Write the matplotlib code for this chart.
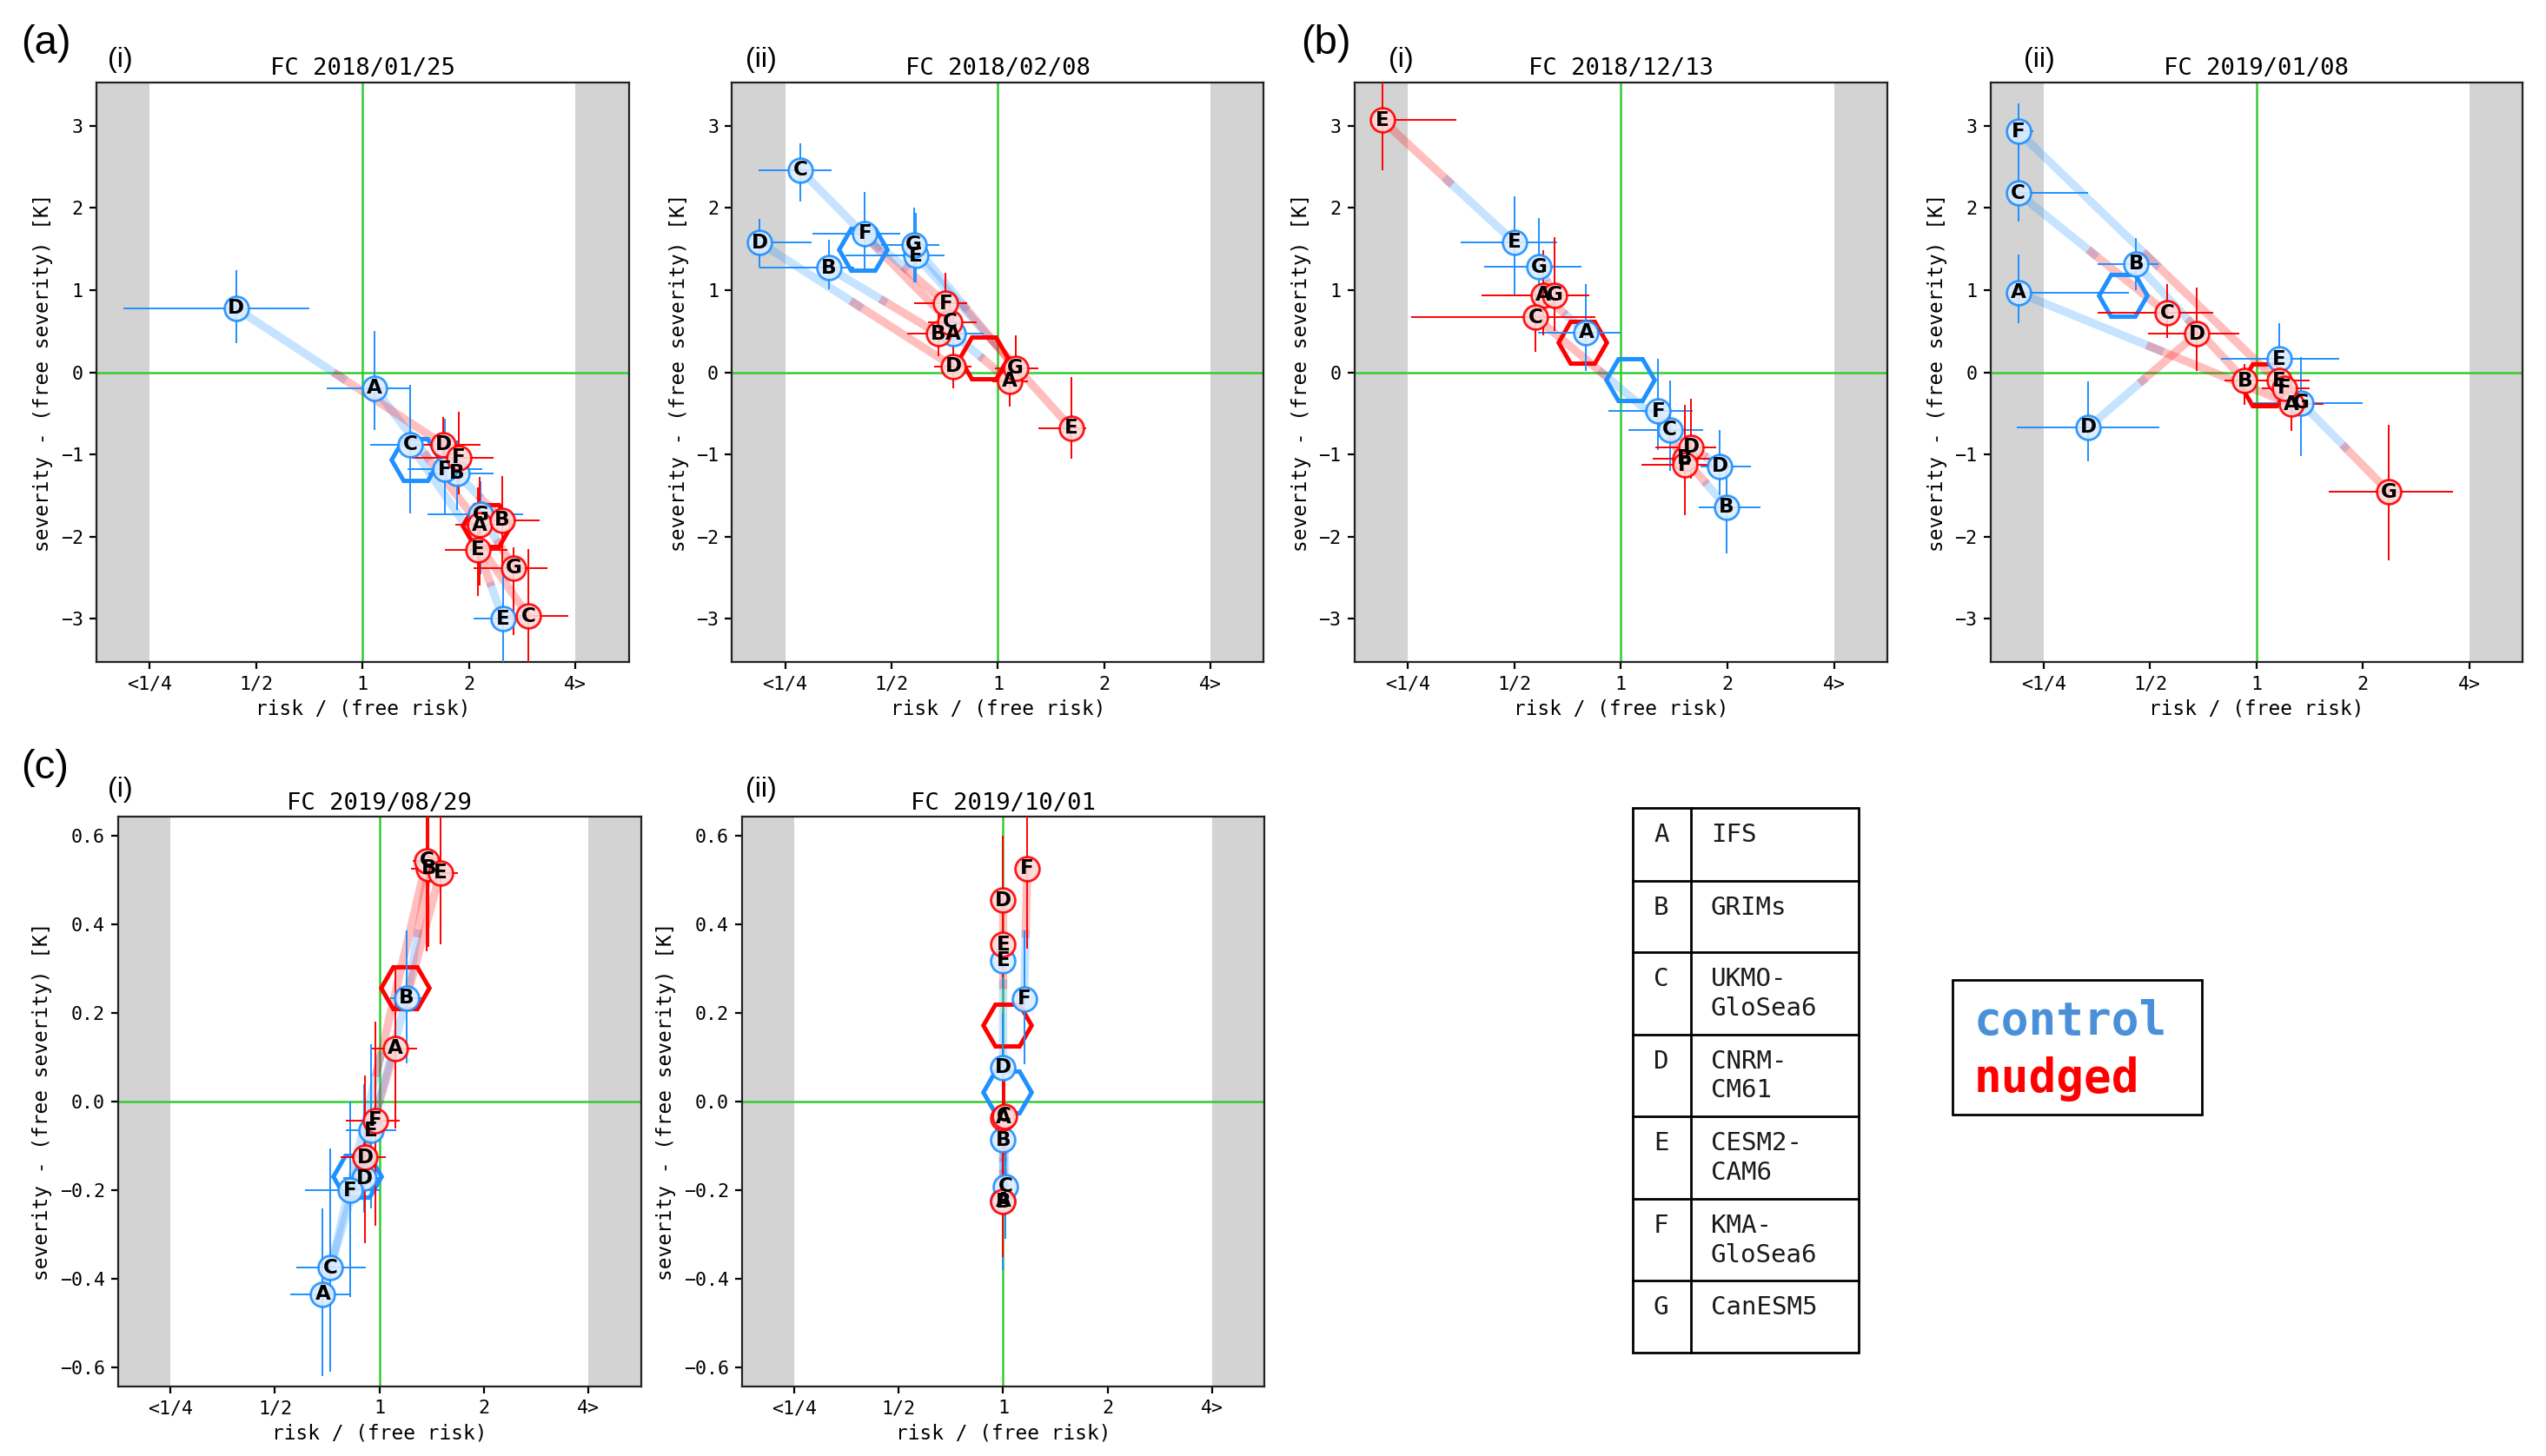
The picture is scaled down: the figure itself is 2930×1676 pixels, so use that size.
import numpy as np
import matplotlib
matplotlib.use("Agg")
import matplotlib.pyplot as plt
from matplotlib.patches import Rectangle

# ---------------- data ----------------
models = ["A", "B", "C", "D", "E", "F", "G"]
model_names = [["IFS"], ["GRIMs"], ["UKMO-", "GloSea6"], ["CNRM-", "CM61"],
               ["CESM2-", "CAM6"], ["KMA-", "GloSea6"], ["CanESM5"]]
x_ticks = [-2, -1, 0, 1, 2]
x_tick_labels = ["<1/4", "1/2", "1", "2", "4>"]
titles = ["FC 2018/01/25", "FC 2018/02/08", "FC 2018/12/13",
          "FC 2019/01/08", "FC 2019/08/29", "FC 2019/10/01"]
N = np.nan
# rows per model A..G: (log2 risk ratio, severity diff, x_lo, x_hi, y_lo, y_hi)
a1_control = [(0.11, -0.19, -0.34, 0.44, -0.70, 0.50),
              (0.885, -1.23, 0.62, 1.23, -1.68, -0.83),
              (0.445, -0.88, 0.07, 0.68, -1.72, -0.15),
              (-1.19, 0.78, -2.25, -0.50, 0.36, 1.24),
              (1.32, -3.00, 1.04, 1.56, -3.80, -2.32),
              (0.77, -1.18, 0.42, 1.12, -1.73, -0.57),
              (1.11, -1.73, 0.61, 1.51, -2.46, -1.33)]
a1_nudged = [(1.10, -1.86, 0.87, 1.35, -2.60, -1.27),
             (1.31, -1.80, 1.05, 1.66, -2.35, -1.26),
             (1.557, -2.97, 1.35, 1.93, -3.80, -2.15),
             (0.76, -0.88, 0.57, 1.11, -1.05, -0.54),
             (1.085, -2.16, 0.77, 1.36, -2.72, -1.40),
             (0.90, -1.04, 0.46, 1.23, -1.48, -0.48),
             (1.42, -2.38, 1.04, 1.74, -3.20, -2.13)]
a2_control = [(-0.42, 0.47, -0.66, -0.13, 0.22, 0.72),
              (-1.59, 1.27, -2.24, -1.35, 1.01, 1.61),
              (-1.855, 2.46, -2.25, -1.56, 2.08, 2.79),
              (-2.24, 1.58, -2.25, -1.75, 1.27, 1.87),
              (-0.77, 1.42, -1.43, -0.50, 1.09, 1.94),
              (-1.25, 1.69, -1.74, -0.92, 1.24, 2.19),
              (-0.79, 1.55, -1.10, -0.55, 1.09, 2.00)]
a2_nudged = [(0.11, -0.11, -0.05, 0.28, -0.42, 0.20),
             (-0.56, 0.47, -0.85, -0.30, 0.20, 0.70),
             (-0.45, 0.61, -0.66, -0.20, 0.35, 0.85),
             (-0.42, 0.07, -0.60, -0.25, -0.20, 0.33),
             (0.69, -0.68, 0.38, 0.83, -1.05, -0.06),
             (-0.49, 0.84, -0.79, -0.29, 0.53, 1.21),
             (0.165, 0.05, -0.03, 0.38, -0.20, 0.45)]
b1_control = [(-0.325, 0.485, -0.78, 0.0, 0.02, 1.07),
              (0.99, -1.64, 0.73, 1.31, -2.20, -1.10),
              (0.46, -0.70, 0.07, 0.77, -1.20, -0.10),
              (0.93, -1.145, 0.75, 1.22, -1.50, -0.70),
              (-1.0, 1.585, -1.50, -0.60, 0.95, 2.14),
              (0.35, -0.47, -0.12, 0.67, -0.95, 0.16),
              (-0.77, 1.28, -1.28, -0.37, 0.70, 1.88)]
b1_nudged = [(-0.73, 0.94, -1.31, -0.31, 0.45, 1.49),
             (0.60, -1.05, 0.30, 0.85, -1.40, -0.40),
             (-0.80, 0.67, -1.97, -0.24, 0.25, 1.00),
             (0.66, -0.91, 0.32, 0.89, -1.30, -0.32),
             (-2.24, 3.07, -2.25, -1.54, 2.46, 3.80),
             (0.60, -1.13, 0.19, 0.85, -1.74, -0.50),
             (-0.62, 0.94, -1.10, -0.30, 0.50, 1.65)]
b2_control = [(-2.24, 0.97, -2.25, -1.20, 0.60, 1.43),
              (-1.13, 1.32, -1.49, -0.92, 1.00, 1.63),
              (-2.24, 2.18, -2.25, -1.58, 1.83, 2.55),
              (-1.58, -0.67, -2.25, -0.91, -1.08, -0.11),
              (0.21, 0.16, -0.33, 0.78, -0.25, 0.60),
              (-2.24, 2.93, -2.25, -2.10, 2.55, 3.27),
              (0.42, -0.37, -0.05, 1.00, -1.02, 0.19)]
b2_nudged = [(0.33, -0.39, -0.05, 0.63, -0.71, -0.10),
             (-0.11, -0.10, -0.30, 0.10, -0.40, 0.10),
             (-0.84, 0.72, -1.49, -0.41, 0.42, 1.07),
             (-0.56, 0.47, -1.02, -0.16, 0.02, 1.03),
             (0.21, -0.10, 0.0, 0.50, -0.30, 0.10),
             (0.26, -0.19, 0.05, 0.50, -0.40, 0.0),
             (1.245, -1.455, 0.68, 1.85, -2.29, -0.64)]
c1_control = [(-0.544, -0.434, -0.85, -0.29, -0.62, -0.24),
              (0.26, 0.234, 0.10, 0.40, 0.087, 0.386),
              (-0.468, -0.375, -0.80, -0.13, -0.61, -0.105),
              (-0.148, -0.173, -0.35, 0.0, -0.25, 0.04),
              (-0.08, -0.065, -0.32, 0.16, -0.24, 0.13),
              (-0.28, -0.20, -0.71, 0.0, -0.44, 0.0),
              (N, N, N, N, N, N)]
c1_nudged = [(0.15, 0.12, -0.07, 0.36, -0.06, 0.30),
             (0.47, 0.526, 0.30, 0.60, 0.35, 0.75),
             (0.45, 0.544, 0.32, 0.57, 0.34, 0.80),
             (-0.136, -0.126, -0.37, 0.06, -0.32, 0.06),
             (0.58, 0.516, 0.45, 0.75, 0.355, 0.75),
             (-0.04, -0.042, -0.32, 0.19, -0.28, 0.18),
             (N, N, N, N, N, N)]
c2_control = [(0.0, -0.224, -0.03, 0.03, -0.38, -0.07),
              (0.0, -0.086, -0.03, 0.03, -0.30, 0.13),
              (0.02, -0.191, -0.01, 0.05, -0.31, -0.07),
              (0.0, 0.077, -0.03, 0.03, -0.05, 0.20),
              (0.0, 0.318, -0.03, 0.03, 0.26, 0.38),
              (0.20, 0.232, 0.17, 0.23, 0.084, 0.386),
              (N, N, N, N, N, N)]
c2_nudged = [(0.0, -0.036, -0.03, 0.03, -0.30, 0.05),
             (0.0, -0.226, -0.03, 0.03, -0.35, -0.10),
             (0.01, -0.032, -0.02, 0.04, -0.12, 0.05),
             (0.0, 0.455, -0.03, 0.03, 0.30, 0.60),
             (0.0, 0.355, -0.03, 0.03, 0.28, 0.45),
             (0.23, 0.526, 0.20, 0.26, 0.345, 0.75),
             (N, N, N, N, N, N)]

# ---------------- style ----------------
W, H, DPI = 2930, 1676, 200
plt.rcParams["font.family"] = ["DejaVu Sans Mono"]
BLUE = "#1e90ff"
RED = "#ff0000"
BLUE_FACE = "#dcebff"
RED_FACE = "#ffd9d9"
GREEN = "#33cc33"
GRAY = "#d3d3d3"

fig = plt.figure(figsize=(W / DPI, H / DPI), dpi=DPI)

# overlay axes in pixel coordinates for free text, table and legend box
ov = fig.add_axes([0, 0, 1, 1])
ov.set_xlim(0, W)
ov.set_ylim(H, 0)
ov.axis("off")

# panel boxes (pixels): left, right, top, bottom
top_row = (94.7, 762.4)
bot_row = (940.2, 1596.2)
panel_boxes = [(111.0, 723.6, *top_row), (842.4, 1454.4, *top_row),
               (1558.7, 2172.0, *top_row), (2290.8, 2902.8, *top_row),
               (136.0, 737.5, *bot_row), (854.0, 1455.0, *bot_row)]
panel_data = [(a1_control, a1_nudged), (a2_control, a2_nudged),
              (b1_control, b1_nudged), (b2_control, b2_nudged),
              (c1_control, c1_nudged), (c2_control, c2_nudged)]
ylims = [3.53, 3.53, 3.53, 3.53, 0.643, 0.643]


def draw_panel(ax, control, nudged, ylim, title, small):
    ax.axvspan(-2.5, -2, color=GRAY, lw=0, zorder=0)
    ax.axvspan(2, 2.5, color=GRAY, lw=0, zorder=0)
    ax.axvline(0, color=GREEN, lw=0.9, zorder=1)
    ax.axhline(0, color=GREEN, lw=0.9, zorder=1)
    ctl = np.array(control, dtype=float)
    nud = np.array(nudged, dtype=float)
    # connecting lines control -> nudged
    for i in range(len(models)):
        x0, y0 = ctl[i, 0], ctl[i, 1]
        x1, y1 = nud[i, 0], nud[i, 1]
        if np.isnan(x0) or np.isnan(x1):
            continue
        fb, fr = 0.53, 0.47
        ax.plot([x0, x0 + fb * (x1 - x0)], [y0, y0 + fb * (y1 - y0)],
                color=BLUE, alpha=0.25, lw=3.4, solid_capstyle="butt", zorder=2)
        ax.plot([x0 + fr * (x1 - x0), x1], [y0 + fr * (y1 - y0), y1],
                color=RED, alpha=0.25, lw=3.4, solid_capstyle="butt", zorder=2)
    for arr, col in ((ctl, BLUE), (nud, RED)):
        ok = ~np.isnan(arr[:, 0])
        a = arr[ok]
        ax.plot(np.nanmean(a[:, 0]), np.nanmean(a[:, 1]), marker="H", ms=20,
                mfc="none", mec=col, mew=1.8, ls="none", zorder=3)
        ax.errorbar(a[:, 0], a[:, 1],
                    xerr=[a[:, 0] - a[:, 2], a[:, 3] - a[:, 0]],
                    yerr=[a[:, 1] - a[:, 4], a[:, 5] - a[:, 1]],
                    fmt="none", ecolor=col, elinewidth=0.7, capsize=0, zorder=4)
    for arr, col, face in ((ctl, BLUE, BLUE_FACE), (nud, RED, RED_FACE)):
        for i, m in enumerate(models):
            if np.isnan(arr[i, 0]):
                continue
            ax.plot(arr[i, 0], arr[i, 1], "o", ms=10, mfc=face, mec=col,
                    mew=1.0, alpha=0.9, zorder=5)
            ax.text(arr[i, 0], arr[i, 1], m, ha="center", va="center",
                    fontsize=8.3, fontweight="bold", family="DejaVu Sans",
                    color="black", zorder=6)
    ax.set_xlim(-2.5, 2.5)
    ax.set_ylim(-ylim, ylim)
    ax.set_xticks(x_ticks)
    ax.set_xticklabels(x_tick_labels)
    if small:
        ax.set_yticks([-0.6, -0.4, -0.2, 0.0, 0.2, 0.4, 0.6])
        ax.set_yticklabels(["−0.6", "−0.4", "−0.2", "0.0", "0.2", "0.4", "0.6"])
    else:
        ax.set_yticks([-3, -2, -1, 0, 1, 2, 3])
    ax.tick_params(labelsize=7.8, length=3, width=0.8, pad=2.5)
    ax.set_xlabel("risk / (free risk)", fontsize=8.2, labelpad=2.5)
    ax.set_ylabel("severity - (free severity) [K]", fontsize=8.2, labelpad=3)
    ax.set_title(title, fontsize=9.8, pad=3)
    for s in ax.spines.values():
        s.set_linewidth(0.8)
        s.set_color("#222222")


for k, (l, r, t, b) in enumerate(panel_boxes):
    ax = fig.add_axes([l / W, 1 - b / H, (r - l) / W, (b - t) / H])
    ctl, nud = panel_data[k]
    draw_panel(ax, ctl, nud, ylims[k], titles[k], k >= 4)

# panel labels
big = dict(family=["Liberation Sans", "DejaVu Sans"], fontsize=17,
           ha="left", va="center")
small_lab = dict(family=["Liberation Sans", "DejaVu Sans"], fontsize=11.5,
                 ha="left", va="center")
for txt, x, y in (("(a)", 24, 50), ("(b)", 1497, 50), ("(c)", 24, 884)):
    ov.text(x, y, txt, **big)
for txt, x, y in (("(i)", 124, 69), ("(ii)", 858, 69), ("(i)", 1598, 69),
                  ("(ii)", 2329, 69), ("(i)", 124, 909), ("(ii)", 858, 909)):
    ov.text(x, y, txt, **small_lab)

# model table
row_edges = [930.1, 1014.4, 1096.1, 1190.7, 1284.9, 1380.0, 1474.2, 1557.2]
tl, tdiv, tr = 1879.0, 1945.5, 2139.0
ov.add_patch(Rectangle((tl, row_edges[0]), tr - tl, row_edges[-1] - row_edges[0],
                       fill=False, lw=1.0, ec="black"))
ov.plot([tdiv, tdiv], [row_edges[0], row_edges[-1]], color="black", lw=1.0)
for ye in row_edges[1:-1]:
    ov.plot([tl, tr], [ye, ye], color="black", lw=1.0)
for i, m in enumerate(models):
    y0 = row_edges[i] + 39
    ov.text(1903, y0, m, fontsize=10.5, va="baseline", ha="left", color="#1a1a1a")
    for j, line in enumerate(model_names[i]):
        ov.text(1969, y0 + j * 33.6, line, fontsize=10.5, va="baseline",
                ha="left", color="#1a1a1a")

# control / nudged box
ov.add_patch(Rectangle((2247, 1128), 2534 - 2247, 1283 - 1128, fill=False,
                       lw=1.0, ec="black"))
ov.text(2272, 1190.7, "control", fontsize=19, fontweight="bold",
        color="#4a90d9", va="baseline", ha="left")
ov.text(2272, 1256.7, "nudged", fontsize=19, fontweight="bold",
        color=RED, va="baseline", ha="left")

fig.savefig("out.png", dpi=DPI)
